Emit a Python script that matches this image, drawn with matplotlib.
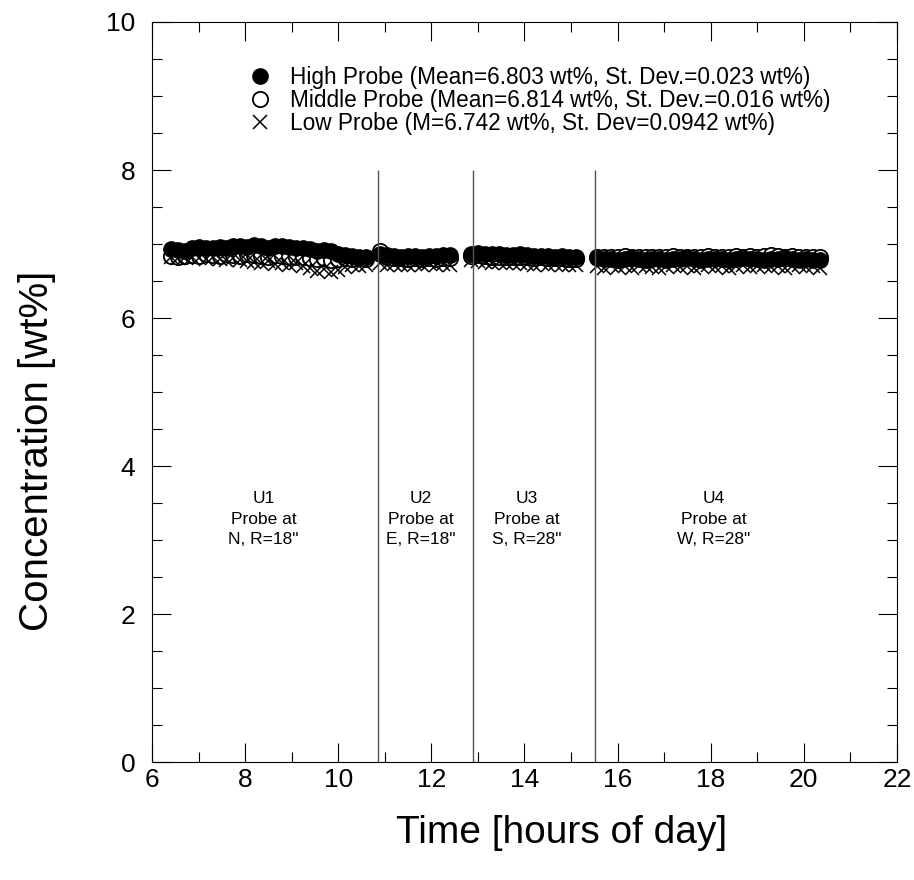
import numpy as np
import matplotlib
matplotlib.use("Agg")
import matplotlib.pyplot as plt
from matplotlib.ticker import MultipleLocator

plt.rcParams['font.family'] = ['Liberation Sans', 'DejaVu Sans']

# sample times [hours of day], one list per probe position
t1 = [6.40, 6.55, 6.70, 6.85, 7.00, 7.15, 7.30, 7.45, 7.60, 7.75, 7.90, 8.05, 8.20, 8.35, 8.50,
      8.65, 8.80, 8.95, 9.10, 9.25, 9.40, 9.55, 9.70, 9.85, 10.00, 10.15, 10.30, 10.45, 10.60]
t2 = [10.90, 11.05, 11.20, 11.35, 11.50, 11.65, 11.80, 11.95, 12.10, 12.25, 12.40]
t3 = [12.85, 13.00, 13.15, 13.30, 13.45, 13.60, 13.75, 13.90, 14.05, 14.20, 14.35, 14.50,
      14.65, 14.80, 14.95, 15.10]
t4 = [15.55, 15.70, 15.85, 16.00, 16.15, 16.30, 16.45, 16.60, 16.75, 16.90, 17.05, 17.20,
      17.35, 17.50, 17.65, 17.80, 17.95, 18.10, 18.25, 18.40, 18.55, 18.70, 18.85, 19.00,
      19.15, 19.30, 19.45, 19.60, 19.75, 19.90, 20.05, 20.20, 20.35]

high1 = [6.93, 6.92, 6.91, 6.94, 6.96, 6.95, 6.94, 6.96, 6.95, 6.98, 6.97, 6.96, 6.99, 6.97, 6.95,
         6.97, 6.98, 6.96, 6.94, 6.95, 6.93, 6.91, 6.92, 6.90, 6.87, 6.85, 6.84, 6.83, 6.83]
mid1 = [6.84, 6.83, 6.84, 6.85, 6.84, 6.86, 6.85, 6.84, 6.86, 6.85, 6.84, 6.86, 6.85, 6.84, 6.83,
        6.85, 6.84, 6.83, 6.82, 6.83, 6.81, 6.80, 6.81, 6.79, 6.80, 6.81, 6.80, 6.81, 6.80]
low1 = [6.82, 6.81, 6.83, 6.82, 6.81, 6.80, 6.82, 6.80, 6.79, 6.81, 6.78, 6.77, 6.76, 6.74, 6.77,
        6.73, 6.75, 6.72, 6.74, 6.70, 6.68, 6.64, 6.66, 6.62, 6.65, 6.69, 6.72, 6.70, 6.71]

high2 = [6.86, 6.85, 6.84, 6.83, 6.84, 6.84, 6.83, 6.84, 6.84, 6.85, 6.85]
mid2 = [6.90, 6.82, 6.81, 6.81, 6.80, 6.81, 6.80, 6.81, 6.80, 6.81, 6.81]
low2 = [6.74, 6.72, 6.73, 6.71, 6.72, 6.73, 6.72, 6.74, 6.71, 6.73, 6.72]

high3 = [6.87, 6.88, 6.87, 6.86, 6.86, 6.85, 6.85, 6.86, 6.85, 6.84, 6.84, 6.84, 6.83, 6.84, 6.83, 6.82]
mid3 = [6.84, 6.85, 6.84, 6.83, 6.83, 6.82, 6.82, 6.83, 6.82, 6.81, 6.82, 6.81, 6.81, 6.81, 6.80, 6.80]
low3 = [6.78, 6.77, 6.76, 6.75, 6.76, 6.74, 6.74, 6.75, 6.73, 6.72, 6.74, 6.72, 6.73, 6.71, 6.72, 6.72]

high4 = [6.81, 6.80, 6.80, 6.79, 6.80, 6.81, 6.80, 6.79, 6.80, 6.80, 6.79, 6.80, 6.80, 6.81, 6.80,
         6.79, 6.80, 6.80, 6.80, 6.79, 6.80, 6.81, 6.80, 6.80, 6.79, 6.80, 6.80, 6.81, 6.80, 6.79,
         6.80, 6.79, 6.78]
mid4 = [6.82, 6.83, 6.82, 6.83, 6.84, 6.82, 6.83, 6.82, 6.83, 6.82, 6.83, 6.84, 6.83, 6.82, 6.83,
        6.83, 6.84, 6.83, 6.82, 6.83, 6.84, 6.83, 6.84, 6.83, 6.84, 6.85, 6.84, 6.83, 6.84, 6.83,
        6.83, 6.82, 6.82]
low4 = [6.70, 6.68, 6.71, 6.69, 6.70, 6.68, 6.71, 6.70, 6.69, 6.68, 6.70, 6.71, 6.69, 6.70, 6.68,
        6.70, 6.71, 6.69, 6.70, 6.68, 6.70, 6.71, 6.69, 6.70, 6.71, 6.69, 6.70, 6.68, 6.70, 6.71,
        6.69, 6.70, 6.68]

t_all = t1 + t2 + t3 + t4
high = high1 + high2 + high3 + high4
mid = mid1 + mid2 + mid3 + mid4
low = low1 + low2 + low3 + low4

# probe moves
changes = [10.85, 12.9, 15.52]
regions = ["U1\nProbe at\nN, R=18\"", "U2\nProbe at\nE, R=18\"",
           "U3\nProbe at\nS, R=28\"", "U4\nProbe at\nW, R=28\""]
region_x = [8.4, 11.77, 14.06, 18.07]

labels = ["High Probe (Mean=6.803 wt%, St. Dev.=0.023 wt%)",
          "Middle Probe (Mean=6.814 wt%, St. Dev.=0.016 wt%)",
          "Low Probe (M=6.742 wt%, St. Dev=0.0942 wt%)"]

fig = plt.figure(figsize=(9.14, 8.8), dpi=100)
ax = fig.add_axes([0.1663, 0.134, 0.815, 0.841])

# middle first so the filled circles sit on top of it
h_mid, = ax.plot(t_all, mid, 'o', mfc='white', mec='k', mew=1.3, ms=11, label=labels[1])
h_high, = ax.plot(t_all, high, 'o', color='k', ms=11, label=labels[0])
h_low, = ax.plot(t_all, low, 'x', color='k', ms=10, mew=1.1, label=labels[2])

ax.vlines(changes, 0, 8, color='#555555', lw=1.0)
for x, s in zip(region_x, regions):
    ax.text(x, 3.28, s, ha='center', va='center', fontsize=12.5, linespacing=1.45)

ax.set_xlim(6, 22)
ax.set_ylim(0, 10)
ax.xaxis.set_major_locator(MultipleLocator(2))
ax.xaxis.set_minor_locator(MultipleLocator(1))
ax.yaxis.set_major_locator(MultipleLocator(2))
ax.yaxis.set_minor_locator(MultipleLocator(0.5))
ax.tick_params(which='both', direction='in', top=True, right=True, labelsize=19, width=0.8)
ax.tick_params(which='major', length=14)
ax.tick_params(which='minor', length=7)
ax.tick_params(axis='x', which='major', pad=4)
ax.tick_params(axis='y', which='major', pad=12)
for sp in ax.spines.values():
    sp.set_linewidth(0.8)

ax.set_xlabel("Time [hours of day]", fontsize=28)
ax.set_ylabel("Concentration [wt%]", fontsize=29)
ax.xaxis.set_label_coords(0.55, -0.072)
ax.yaxis.set_label_coords(-0.155, 0.42)
ax.yaxis.label.set_va('center')

ax.legend([h_high, h_mid, h_low], labels, loc='upper left', bbox_to_anchor=(0.115, 0.953),
          frameon=False, fontsize=16.3, handletextpad=0.7, labelspacing=0.0,
          handlelength=1.2, borderaxespad=0)

fig.savefig("out.png", dpi=100)
